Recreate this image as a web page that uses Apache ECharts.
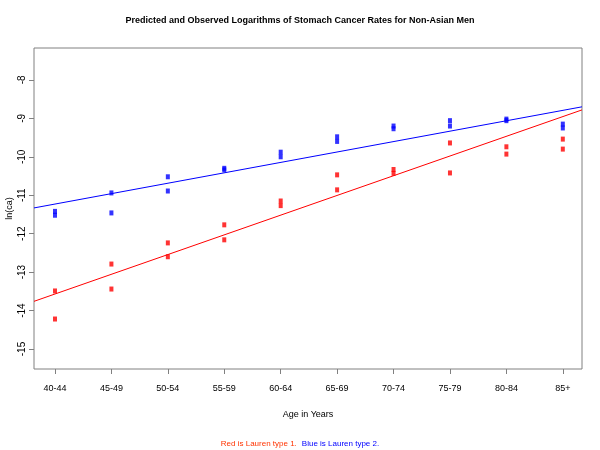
<!DOCTYPE html>
<html><head><meta charset="utf-8">
<script src="https://cdn.jsdelivr.net/npm/echarts@6/dist/echarts.min.js"></script>
<style>html,body{margin:0;padding:0;background:#fff}#c{width:600px;height:450px}</style>
</head><body><div id="c"></div>
<script>
const categories = ['40-44','45-49','50-54','55-59','60-64','65-69','70-74','75-79','80-84','85+'];
const yTicks = [-8,-9,-10,-11,-12,-13,-14,-15];
// observed values: [categoryIndex, ln(rate)]
const redObserved = [
  [0,-13.49],[0,-14.22],[1,-12.79],[1,-13.44],[2,-12.24],[2,-12.60],
  [3,-11.77],[3,-12.16],[4,-11.15],[4,-11.27],[5,-10.47],[5,-10.86],
  [6,-10.33],[6,-10.43],[7,-9.64],[7,-10.42],[8,-9.74],[8,-9.93],
  [9,-9.54],[9,-9.80]
];
const blueObserved = [
  [0,-11.42],[0,-11.52],[1,-10.94],[1,-11.46],[2,-10.52],[2,-10.89],
  [3,-10.30],[3,-10.34],[4,-9.88],[4,-10.00],[5,-9.48],[5,-9.60],
  [6,-9.20],[6,-9.27],[7,-9.06],[7,-9.20],[8,-9.02],[8,-9.06],
  [9,-9.15],[9,-9.25]
];
// fitted lines, value at the left and right edges of the plot
const xRange = [-0.372, 9.34];
const redFit = [-13.76, -8.78];
const blueFit = [-11.33, -8.70];

const FONT = "'Liberation Sans',Arial,sans-serif";
const chart = echarts.init(document.getElementById('c'), null, {renderer:'canvas'});
chart.setOption({
  animation:false,
  backgroundColor:'#fff',
  title:[
    {text:'Predicted and Observed Logarithms of Stomach Cancer Rates for Non-Asian Men',
     left:'center', top:16, padding:0,
     textStyle:{fontFamily:FONT,fontSize:9,fontWeight:'bold',color:'#000'}},
    {text:'{r|Red is Lauren type 1.} {b|Blue is Lauren type 2.}',
     left:'center', top:435, padding:0,
     textStyle:{fontWeight:'normal',rich:{
       r:{fontFamily:FONT,fontSize:8,fontWeight:'normal',color:'#ff3300'},
       b:{fontFamily:FONT,fontSize:8,fontWeight:'normal',color:'#0000ff'}}}}
  ],
  grid:{left:34,top:48,right:18,bottom:81,show:true,borderColor:'#808080',borderWidth:1,
        backgroundColor:'transparent',containLabel:false,outerBoundsMode:'none'},
  xAxis:{
    type:'value', min:xRange[0], max:xRange[1],
    name:'Age in Years', nameLocation:'middle', nameGap:41, nameMoveOverlap:false,
    nameTextStyle:{fontFamily:FONT,fontSize:9,color:'#000'},
    axisLine:{show:false,onZero:false},
    splitLine:{show:false},
    axisTick:{show:true,length:5,inside:false,lineStyle:{color:'#808080'},customValues:[0,1,2,3,4,5,6,7,8,9]},
    axisLabel:{show:true,margin:15,fontFamily:FONT,fontSize:9,color:'#000',
      customValues:[0,1,2,3,4,5,6,7,8,9],
      formatter:function(v){return categories[Math.round(v)];}}
  },
  yAxis:{
    type:'value', min:-15.52, max:-7.17,
    name:'ln(ca)', nameLocation:'middle', nameGap:20, nameRotate:90, nameMoveOverlap:false,
    nameTextStyle:{fontFamily:FONT,fontSize:9,color:'#000'},
    axisLine:{show:false,onZero:false},
    splitLine:{show:false},
    axisTick:{show:true,length:5,lineStyle:{color:'#808080'},customValues:yTicks},
    axisLabel:{show:true,rotate:90,margin:7,fontFamily:FONT,fontSize:10,color:'#000',
      customValues:yTicks}
  },
  series:[
    {type:'line',data:[[xRange[0],blueFit[0]],[xRange[1],blueFit[1]]],symbol:'none',
     lineStyle:{color:'#0000ff',width:1},z:2},
    {type:'line',data:[[xRange[0],redFit[0]],[xRange[1],redFit[1]]],symbol:'none',
     lineStyle:{color:'#ff0000',width:1},z:2},
    {type:'scatter',data:blueObserved,symbol:'rect',symbolSize:[4,5],itemStyle:{color:'#0000ff'},z:3},
    {type:'scatter',data:redObserved,symbol:'rect',symbolSize:[4,5],itemStyle:{color:'#ff0000'},z:3}
  ]
});
</script></body></html>
